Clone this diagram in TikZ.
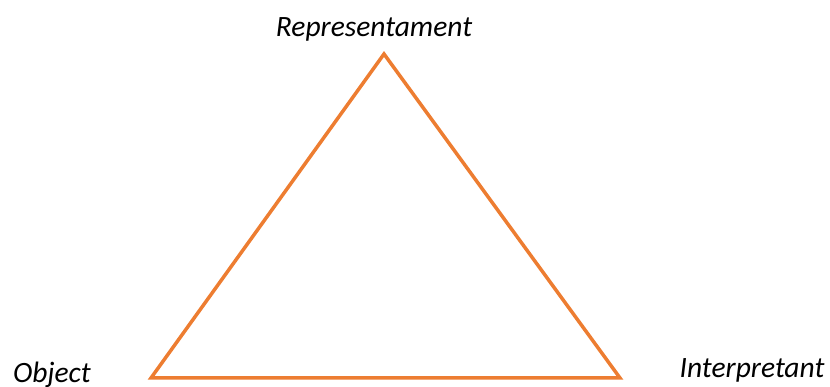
\documentclass[tikz,border=0pt]{standalone}
\usepackage{fontspec}
\setmainfont{Carlito}
\definecolor{signorange}{HTML}{ED7D31}
\begin{document}
\begin{tikzpicture}[x=1pt,y=1pt,
  label/.style={font=\fontsize{29.5}{34}\selectfont\itshape,inner sep=0pt,anchor=base}]
  \useasboundingbox (0,0) rectangle (830,387);
  % Triangle corners

  \coordinate (rep) at (384,333);
  \coordinate (obj) at (151,9);
  \coordinate (int) at (620,9);

  \draw[draw=signorange,line width=3.5pt,line join=miter] (rep) -- (int) -- (obj) -- cycle;

  % Labels
  \node[label] (replabel) at (374,350) {Representament};
  \node[label] (objlabel) at (52,4) {Object};
  \node[label] (intlabel) at (752,9) {Interpretant};

\end{tikzpicture}
\end{document}
